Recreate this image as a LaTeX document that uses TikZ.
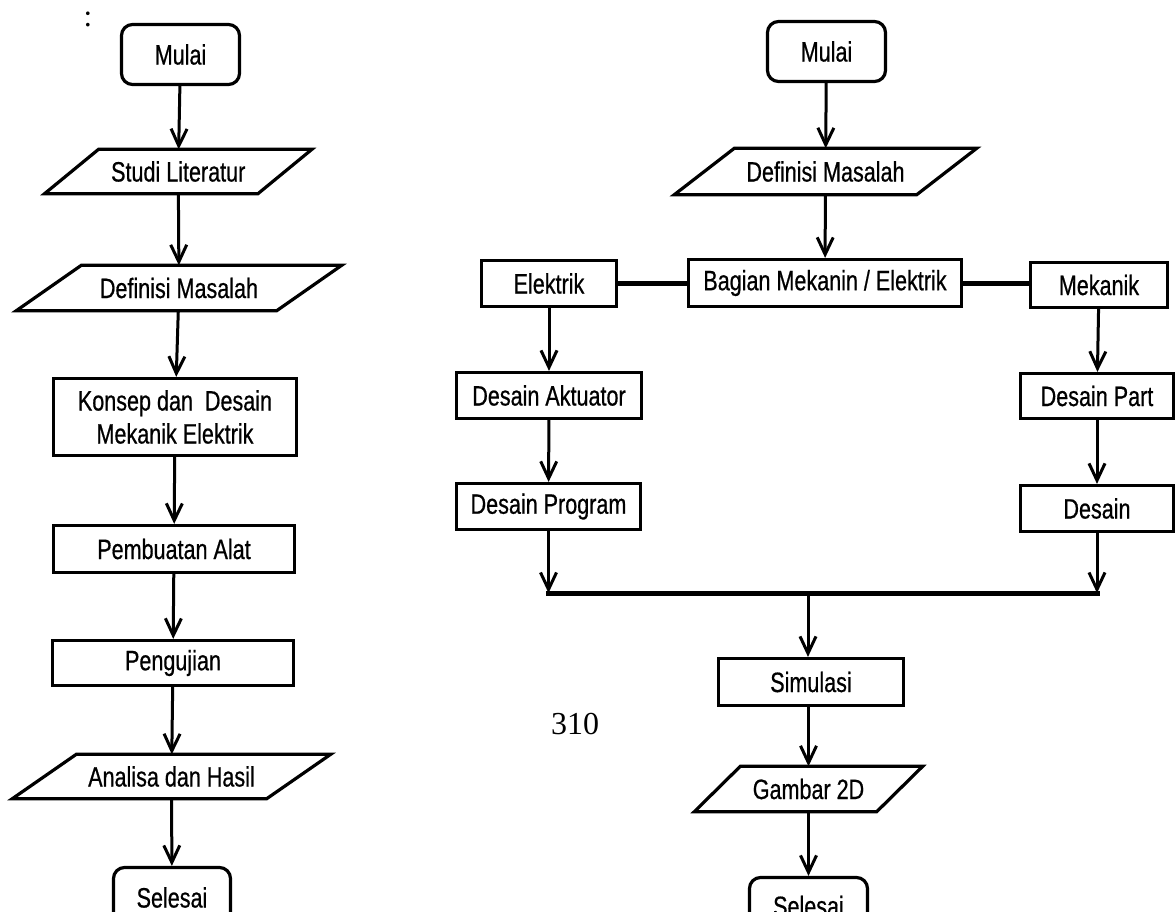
\documentclass[tikz,border=0pt]{standalone}
\usepackage{fontspec}
\setmainfont{Liberation Sans}[FakeStretch=0.77,FakeBold=0.6]
\newfontfamily\serifnum{Liberation Serif}
\usetikzlibrary{arrows.meta}
\newcommand\drawpara[2]{\draw[line width=3.2pt, line join=miter] ([xshift=#2pt]#1.north west) -- ([xshift=#2pt]#1.north east) -- ([xshift=-#2pt]#1.south east) -- ([xshift=-#2pt]#1.south west) -- cycle;}
\begin{document}
\begin{tikzpicture}[x=1pt,y=-1pt,
  lbl/.style={inner sep=0pt, font=\fontsize{28}{33}\selectfont, align=center, text=black},
  box/.style={lbl, draw=black, line width=3.2pt},
  rbox/.style={box, rounded corners=11pt},
  ptext/.style={lbl},
  arr/.style={line width=3pt, -{Straight Barb[length=17pt,width=16pt,line width=3pt]}},
  link/.style={line width=5pt}]
\useasboundingbox (0,0) rectangle (1176,911);
\clip (0,0) rectangle (1176,911);
\fill[white] (0,0) rectangle (1176,911);

% ---------- left flow ----------
\node[font=\serifnum\fontsize{31}{31}\selectfont, inner sep=0pt] (colon) at (88,19) {:};
\node[rbox, minimum width=118, minimum height=60] (mulaiL) at (180.5,54.5) {Mulai};
\node[ptext, minimum width=213, minimum height=44] (studi) at (178.25,171.5) {Studi Literatur};
\drawpara{studi}{27}
\node[ptext, minimum width=260, minimum height=45] (defL) at (179,288) {Definisi Masalah};
\drawpara{defL}{32.5}
\node[box, minimum width=243, minimum height=77] (konsep) at (175,417) {Konsep dan~ Desain\\Mekanik Elektrik};
\node[box, minimum width=241, minimum height=47] (pembuatan) at (174,549) {Pembuatan Alat};
\node[box, minimum width=241, minimum height=45] (pengujian) at (173,663) {Pengujian};
\node[ptext, minimum width=254, minimum height=44] (analisa) at (171.5,776.5) {Analisa dan Hasil};
\drawpara{analisa}{32}
\node[rbox, minimum width=117, minimum height=60] (selesaiL) at (172,897.5) {Selesai};

\draw[arr] (mulaiL) -- (studi);
\draw[arr] (studi) -- (defL);
\draw[arr] (defL) -- (konsep);
\draw[arr] (konsep) -- (pembuatan);
\draw[arr] (pembuatan) -- (pengujian);
\draw[arr] (pengujian) -- (analisa);
\draw[arr] (analisa) -- (selesaiL);

% ---------- right flow ----------
\node[rbox, minimum width=118, minimum height=60] (mulaiR) at (826.5,51.5) {Mulai};
\node[ptext, minimum width=242, minimum height=46] (defR) at (825.5,171.5) {Definisi Masalah};
\drawpara{defR}{30}
\node[box, minimum width=273, minimum height=47] (bagian) at (825,283) {Bagian Mekanin / Elektrik};
\node[box, minimum width=135, minimum height=46] (elektrik) at (549,283.5) {Elektrik};
\node[box, minimum width=137, minimum height=45] (mekanik) at (1099,285) {Mekanik};
\node[box, minimum width=185, minimum height=46] (aktuator) at (549,395.5) {Desain Aktuator};
\node[box, minimum width=184, minimum height=46] (program) at (548.5,506.5) {Desain Program};
\node[box, minimum width=153, minimum height=45] (part) at (1097,396) {Desain Part};
\node[box, minimum width=153, minimum height=46] (desain) at (1097,508.5) {Desain};
\node[box, minimum width=185, minimum height=47] (simulasi) at (811,682) {Simulasi};
\node[ptext, minimum width=182, minimum height=45] (gambar) at (808.5,789) {Gambar 2D};
\drawpara{gambar}{23}
\node[rbox, minimum width=118, minimum height=57] (selesaiR) at (808.5,906) {Selesai};
\node[font=\serifnum\fontsize{32}{32}\selectfont, inner sep=0pt] (page) at (575,724.5) {310};

\coordinate (my) at (0,593);
\coordinate (mL) at (program.south |- my);
\coordinate (mR) at (desain.south |- my);
\coordinate (mC) at (808,593);

\draw[arr] (mulaiR) -- (defR);
\draw[arr] (defR) -- (bagian);
\draw[link] (elektrik.east) -- (elektrik.east -| bagian.west);
\draw[link] (bagian.east) -- (bagian.east -| mekanik.west);
\draw[arr] (elektrik) -- (aktuator);
\draw[arr] (aktuator) -- (program);
\draw[arr] (mekanik) -- (part);
\draw[arr] (part) -- (desain);
\draw[arr] (program.south) -- (mL);
\draw[arr] (desain.south) -- (mR);
\draw[link, line cap=rect] (mL) -- (mR);
\draw[arr] (mC) -- (mC |- simulasi.north);
\draw[arr] (gambar.north |- simulasi.south) -- (gambar.north);
\draw[arr] (gambar) -- (selesaiR);
\end{tikzpicture}
\end{document}
